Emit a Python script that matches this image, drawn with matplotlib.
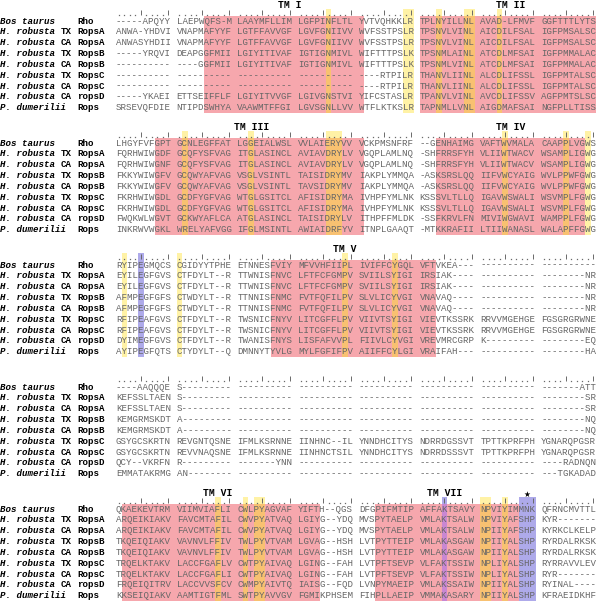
import matplotlib
matplotlib.use("Agg")
import matplotlib.pyplot as plt
from matplotlib.patches import Rectangle

# row labels
species = ["Bos taurus", "H. robusta", "H. robusta", "H. robusta", "H. robusta",
           "H. robusta", "H. robusta", "H. robusta", "P. dumerilii"]
locality = ["", "TX", "CA", "TX", "CA", "TX", "CA", "CA", ""]
genes = ["Rho", "RopsA", "RopsA", "RopsB", "RopsB", "RopsC", "RopsC", "ropsD", "Rops"]

# alignment, 80 columns per block, blocks of 10
block1 = [
    "-----APQYY LAEPWQFS-M LAAYMFLLIM LGFPINFLTL YVTVQHKKLR TPLNYILLNL AVAD-LFMVF GGFTTTLYTS",
    "ANWA-YHDVI VNAPMAFYYF LGTFFAVVGF LGVFGNIIVV WVFSSTPSLR TPSNVLVINL AICDILFSAL IGFPMSALSC",
    "ANWASYHDII VNAPMAFYYF LGTFFAVVGF LGVFGNIIVV WVFSSTPSLR TPSNVLVINL AICDILFSAL IGFPMSALSC",
    "-----YRQVI DEAPGGFMII LGIYITIVAF IGTIGNMIVL WIFTTTPSLK TPSNMLAINL ATCDLMFSAI IGFPMMALAC",
    "---------- ----GGFMII LGIYITIVAF IGTIGNMIVL WIFTTTPSLK TPSNMLVINL ATCDLMFSAI IGFPMMALAC",
    "---------- ---------- ---------- ---------- ----RTPILR THANVLIINL ALCDLIFSSL IGFPMTALSC",
    "---------- ---------- ---------- ---------- ----RTPILR THANVLIINL ALCDLIFSSL IGFPMTALSC",
    "-----YKAEI ETTSEIFFLF LGIYITVVGF LGIVGNSTVI YIFCSTASLR TPANVLVINL AVCDLIFSSV AGFPMTSLSC",
    "SRSEVQFDIE NTIPDSWHYA VAAWMTFFGI LGVSGNLLVV WTFLKTKSLR TAPNMLLVNL AIGDMAFSAI NGFPLLTISS",
]
block2 = [
    "LHGYFVFGPT GCNLEGFFAT LGGEIALWSL VVLAIERYVV VCKPMSNFRF --GENHAIMG VAFTWVMALA CAAPPLVGWS",
    "FQRHWIWGDF GCQFYSFVAG ITGLASINCL AVIAVDRYLV VGQPLAMLNQ -SHFRRSFYH VLIIWTWACV WSAMPLIGWG",
    "FQRHWIWGNF GCQFYSFVAG ITGLASINCL AVIAVDRYLV VGQPLAMLNQ -SHFRRSFYH VLIIWTWACV WSAMPLIGWG",
    "FKKYWIWGFV GCQWYAFVAG VSGLVSINTL TAISIDRYMV IAKPLYMMQA -ASKSRSLQQ IIFVWCYAIG WVLPPWFGWG",
    "FKKYWIWGFV GCQWYAFVAG VSGLVSINTL TAVSIDRYMV IAKPLYMMQA -ASKSRSLQQ IIFVWCYAIG WVLPPWFGWG",
    "FKRHWIWGDL GCDFYGFVAG WTGLGSITCL AFISIDRYMA IVHPFYMLNK KSSSVLTLLQ IGAVWSWALI WSVMPLFGWG",
    "FKRHWIWGDL GCDFYGFVAG WTGLGSITCL AFISIDRYMA IVHPFYMLNK KSSSVLTLLQ IGAVWSWALI WSVMPLFGWG",
    "FWQKWLWGVT GCKWYAFLCA ATGLASINCL TAISIDRYLV ITHPFFMLDK -SSFKRVLFN MIVIWGWAVI WAMPPLFGWG",
    "INKRWVWGKL WRELYAFVGG IFGLMSINTL AWIAIDRFYV ITNPLGAAQT -MTKKRAFII LTIIWANASL WALAPFFGWG",
]
block3 = [
    "RYIPEGMQCS CGIDYYTPHE ETNNESFVIY MFVVHFIIPL IVIFFCYGQL VFTVKEA--- ---------- ----------",
    "EYILEGFGVS CTFDYLT--R TTWNISFNVC LFTFCFGMPV SVIILSYIGI IRSIAK---- ---------- --------NR",
    "EYILEGFGVS CTFDYLT--R TTWNISFNVC LFTFCFGMPV SVIILSYIGI IRSIAK---- ---------- --------NR",
    "AFMPEGFGFS CTWDYLT--R TTNNISFNMC FVTFQFILPV SLVLICYVGI VNAVAQ---- ---------- --------NR",
    "AFMPEGFGFS CTWDYLT--R TTNNISFNMC FVTFQFILPV SLVLICYVGI VNAVAQ---- ---------- --------NR",
    "RFIPEAFGVS CTFDYLT--R TWSNICFNYV LITCGFFLPV VIIVTSYIGI VIEVTKSSRK RRVVMGEHGE FGSGRGRWNE",
    "RFIPEAFGVS CTFDYLT--R TWSNICFNYV LITCGFFLPV VIIVTSYIGI VIEVTKSSRK RRVVMGEHGE FGSGRGRWNE",
    "DYIMEGFGVS CTFDYLT--R TWANISFNYS LISFAFVVPL FIIVLCYVGI VREVMRCGRP K--------- --------EQ",
    "AYIPEGFQTS CTYDYLT--Q DMNNYTYVLG MYLFGFIFPV AIIFFCYLGI VRAIFAH--- ---------- --------HA",
]
block4 = [
    "----AAQQQE S--------- ---------- ---------- ---------- ---------- ---------- -------ATT",
    "KEFSSLTAEN S--------- ---------- ---------- ---------- ---------- ---------- --------SR",
    "KEFSSLTAEN S--------- ---------- ---------- ---------- ---------- ---------- --------SR",
    "KEMGRMSKDT A--------- ---------- ---------- ---------- ---------- ---------- --------NQ",
    "KEMGRMSKDT A--------- ---------- ---------- ---------- ---------- ---------- --------NQ",
    "GSYGCSKRTN REVGNTQSNE IFMLKSRNNE IINHNC--IL YNNDHCITYS NDRRDGSSVT TPTTKPRFPH YGNARQPGSR",
    "GSYGCSKRTN REVVNAQSNE IFMLKSRNNE IINHNCTSIL YNNDHCITYS NDRRDSSSVT TPTTKPRFPH YGNARQPGSR",
    "QCY--VKRFN R--------- -------YNN ---------- ---------- ---------- ---------- ----RADNQN",
    "EMMATAKRMG AN-------- ---------- ---------- ---------- ---------- ---------- ---TGKADAD",
]
block5 = [
    "QKAEKEVTRM VIIMVIAFLI CWLPYAGVAF YIFTH--QGS DFGPIFMTIP AFFAKTSAVY NPVIYIMMNK QFRNCMVTTL",
    "ARQEIKIAKV FAVCMTAFIL CWVPYATVAQ LGIYG--YDQ MVSPYTAELP VMLAKTSALW NPVIYAFSHP KYR-------",
    "ARQEIKIAKV FAVCMTAFIL CWVPYATVAQ LGIYG--YDQ MVSPYTAELP VMLAKTSALW NPIIYAFSHP KYRKCLKELP",
    "TKQEIQIAKV VAVNVLFFIV TWLPYVTVAM LGVAG--HSH LVTPYTTEIP VMLAKASGAW NPIIYALSHP RYRDALRKSK",
    "TKQEIQIAKV VAVNVLFFIV TWLPYVTVAM LGVAG--HSH LVTPYTTEIP VMLAKASGAW NPIIYALSHP RYRDALRKSK",
    "TRQELKTAKV LACCFGAFLV CWTPYAIVAQ LGING--FAH LVTPFTSEVP VLFAKTSSIW NPLIYALSHP RYRRAVVLEV",
    "TRQELKTAKV LACCFGAFLI CWTPYAIVAQ LGING--FAH LVTPFTSEVP VLFAKTSSIW NPLIYALSHP RYR-------",
    "FRQEIQITRV LACCVVSFCV CWMPYAIVTQ IAISG--FQD LVNPYMAEIP VMLAKSSAIW NPIIYALSHP RYINAL----",
    "KKSEIQIAKV AAMTIGTFML SWTPYAVVGV FGMIKPHSEM FIHPLLAEIP VMMAKASARY NPIIYALSHP KFRAEIDKHF",
]
blocks = [block1, block2, block3, block4, block5]

# shaded alignment columns (0-based, per block)
tm_ranges = [[(15, 40), (50, 79)], [(7, 40), (53, 77)], [(26, 52)], [], [(1, 33), (43, 66)]]
yellow_cols = [[35, 48, 49, 53, 58, 59, 63], [11, 22, 35, 36, 37, 64, 74, 78],
               [1, 10, 38, 46], [], [17, 21, 23, 24, 60, 61, 64]]
blue_cols = [[], [], [4], [], [54, 67, 68, 69]]
tm_names = [[("TM I", 29), ("TM II", 65)], [("TM III", 22), ("TM IV", 65)],
            [("TM V", 38)], [], [("TM VI", 17), ("TM VII", 54)]]
star_col = (4, 68)

PINK = "#f6a7ad"
YELLOW = "#fff2a6"
ORANGE = "#f8c171"
BLUE = "#aeaaea"
PURPLE = "#c987d2"
SEQ = "#666666"
MONO = "Liberation Mono"
FS = 6.62

# vertical layout in pixels
TOP = 6.0       # first TM label line
PITCH = 122.0   # block to block
ROW = 10.85     # row to row
ROW_OFF = 15.0


def gx(col):
    # column -> character position (a space after every 10 residues)
    return col + col // 10


fig = plt.figure(figsize=(6.0, 6.04), dpi=100)
ax = fig.add_axes([0, 0, 1, 1])
ax.set_xlim(-21.01, 87.68)
ax.set_ylim(604, 0)
ax.axis("off")

for b, rows in enumerate(blocks):
    head = TOP + b * PITCH
    first = head + ROW_OFF
    base = first - 6.3          # ruler baseline
    band_top = first - ROW / 2
    band_bot = first + (len(rows) - 0.5) * ROW

    for c0, c1 in tm_ranges[b]:
        ax.add_patch(Rectangle((gx(c0), band_top), gx(c1) + 1 - gx(c0), band_bot - band_top,
                               color=PINK, lw=0))

    def inside(c):
        return any(c0 <= c <= c1 for c0, c1 in tm_ranges[b])

    for cols, light, dark in [(yellow_cols[b], YELLOW, ORANGE), (blue_cols[b], BLUE, PURPLE)]:
        for c in cols:
            ax.add_patch(Rectangle((gx(c), base - 5.5), 1, band_top - base + 5.5,
                                   color=light, lw=0))
            ax.add_patch(Rectangle((gx(c), band_top), 1, band_bot - band_top,
                                   color=dark if inside(c) else light, lw=0))

    # ruler: dots, with a tick every 5th column
    cols = list(range(80))
    ticks = [gx(c) + 0.5 for c in cols if (c + 1) % 5 == 0]
    dots = [gx(c) + 0.5 for c in cols if (c + 1) % 5 != 0]
    ax.plot(dots, [base] * len(dots), ls="none", marker="s", ms=0.9, mew=0,
            color="#6a6a6a")
    ax.vlines(ticks, base - 4.8, base + 0.4, color="#6a6a6a", lw=0.7)

    for name, col in tm_names[b]:
        ax.text(gx(col) + 0.5, head - 5.5, name, fontfamily=MONO, fontweight="bold",
                fontsize=7.0, color="black", ha="center", va="top")

    for r, seq in enumerate(rows):
        y = first + r * ROW
        s = seq.replace(" ", "")
        for k in range(8):
            ax.text(k * 11, y, s[k * 10:(k + 1) * 10], fontfamily=MONO, fontsize=FS,
                    color=SEQ, ha="left", va="center")
        ax.text(-21, y, species[r], fontfamily=MONO, fontstyle="italic",
                fontweight="bold", fontsize=FS, color="black", ha="left", va="center")
        if locality[r]:
            ax.text(-10, y, locality[r], fontfamily=MONO, fontweight="bold",
                    fontsize=FS, color="black", ha="left", va="center")
        ax.text(-7, y, genes[r], fontfamily=MONO, fontweight="bold",
                fontsize=FS, color="black", ha="left", va="center")

sb, sc = star_col
ax.text(gx(sc) + 0.5, TOP + sb * PITCH + 0.8, "\u2605", fontfamily="DejaVu Sans",
        fontsize=5.5, color="black", ha="center", va="center")

fig.savefig("out.png", dpi=100)
